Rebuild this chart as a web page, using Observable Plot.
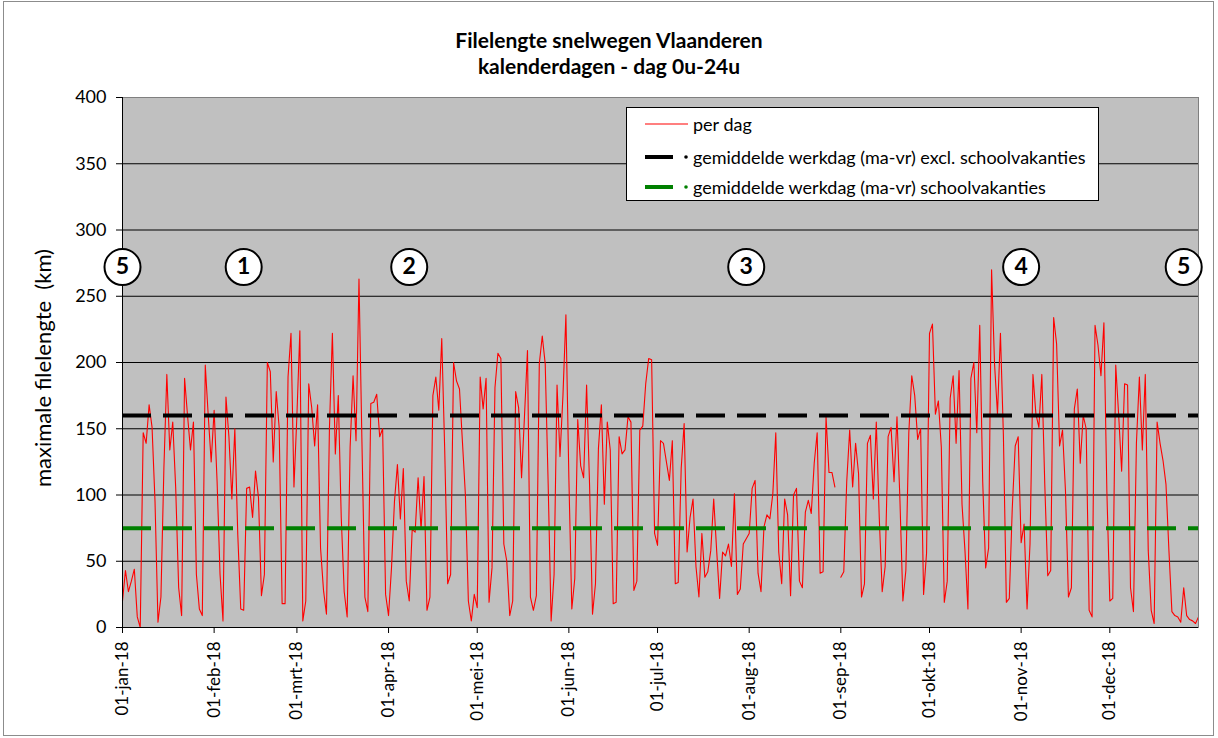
<!DOCTYPE html>
<html><head><meta charset="utf-8">
<script src="https://cdn.jsdelivr.net/npm/d3@7"></script>
<script src="https://cdn.jsdelivr.net/npm/@observablehq/plot@0.6"></script>
<style>
body{margin:0;background:#fff;font-family:Lato,"Liberation Sans",sans-serif;color:#000;}
#wrap{position:relative;width:1218px;height:738px;overflow:hidden;background:#fff;}
#frame{position:absolute;left:3px;top:1px;width:1209px;height:733px;border:1px solid #8c8c8c;pointer-events:none;}
#title{position:absolute;left:0;top:27px;width:1218px;text-align:center;font-weight:bold;font-size:21px;line-height:26px;}
#chart{position:absolute;left:0;top:0;}
#ytitle{position:absolute;left:42px;top:368px;transform:translate(-50%,-50%) rotate(-90deg);font-size:22px;white-space:nowrap;}
#legend{position:absolute;left:626px;top:107px;width:473px;height:94px;background:#fff;border:1px solid #000;box-sizing:border-box;font-size:18px;}
.row{position:absolute;left:0;height:22px;display:flex;align-items:center;white-space:nowrap;}
.row svg{display:block;}
</style>
</head><body>
<div id="wrap">
  <div id="chart"></div>
  <div id="title">Filelengte snelwegen Vlaanderen<br>kalenderdagen - dag 0u-24u</div>
  <div id="ytitle">maximale filelengte&nbsp; (km)</div>
  <div id="legend"></div>
  <div id="frame"></div>
</div>
<script>
// ---- data (max. filelengte per kalenderdag, km) ----
const monthNames = ["jan","feb","mrt","apr","mei","jun","jul","aug","sep","okt","nov","dec"];
const jan = [20,43,27,35,44,8,0,147,139,168,151,95,4,23,120,191,134,155,105,30,9,188,160,134,155,40,14,9,198,160,125];
const feb = [164,110,40,5,174,144,97,150,70,14,13,105,106,83,118,98,24,40,200,193,125,178,151,18,18,189,222,106];
const mrt = [160,224,5,20,184,166,137,168,60,28,10,150,222,131,175,83,27,8,136,190,141,263,140,23,12,169,170,176,144,150,25];
const apr = [9,45,95,123,82,120,35,20,74,72,113,74,114,13,23,175,189,164,218,134,33,40,200,186,180,140,100,20,5,25];
const mei = [15,189,165,188,19,45,181,207,203,63,50,9,20,178,166,113,160,209,23,13,24,199,220,199,108,5,40,183,129,175,236];
const jun = [113,14,37,157,122,113,183,108,10,33,135,168,93,155,134,18,19,144,131,134,159,155,28,35,149,152,184,203,202,71];
const jul = [62,141,139,125,111,141,33,34,120,154,57,83,97,46,23,71,38,42,58,97,58,22,57,54,63,46,101,25,29,63,67];
const aug = [71,105,111,41,27,76,85,82,101,147,57,33,97,85,24,100,105,35,30,87,96,86,124,147,41,42,159,117,117,106,null];
const sep = [38,42,110,149,106,139,116,23,33,139,145,97,155,83,27,46,144,151,110,159,96,20,43,147,190,175,142,150,25,56];
const okt = [222,229,161,171,136,19,35,173,190,139,194,93,58,14,188,200,147,228,110,45,60,270,199,161,222,145,19,22,90,137,144];
const nov = [64,78,14,63,191,161,151,191,108,39,43,234,214,137,149,103,23,30,165,180,124,160,150,13,8,228,213,190,230,103];
const dec = [20,22,198,160,118,184,183,30,12,139,189,134,191,58,13,3,155,139,126,108,58,12,9,8,4,30,9,6,5,3,8];

const avgWorkday = 160;        // gemiddelde werkdag excl. schoolvakanties
const avgWorkdayHoliday = 75;  // gemiddelde werkdag schoolvakanties

const yTicks = [0,50,100,150,200,250,300,350,400];

const markerDates = ["2018-01-01","2018-02-11","2018-04-08","2018-07-31","2018-11-01","2018-12-26"];
const markerLabels = ["5","1","2","3","4","5"];
const markerLevel = 272;

const legendLabels = ["per dag","gemiddelde werkdag (ma-vr) excl. schoolvakanties","gemiddelde werkdag (ma-vr) schoolvakanties"];

// ---- build ----
const daily = [jan,feb,mrt,apr,mei,jun,jul,aug,sep,okt,nov,dec].flat();
const data = daily.map((v,i)=>({date:new Date(Date.UTC(2018,0,1+i)), value:v}));
const markers = markerDates.map((d,i)=>({date:new Date(d+"T00:00:00Z"), label:markerLabels[i], y:markerLevel}));
const monthStarts = d3.range(12).map(m=>new Date(Date.UTC(2018,m,1)));
const xStart = new Date(Date.UTC(2018,0,1)), xEnd = new Date(Date.UTC(2018,11,31));

const chart = Plot.plot({
  width:1218, height:738,
  marginLeft:122, marginRight:20, marginTop:97, marginBottom:111,
  x:{type:"utc", domain:[xStart,xEnd]},
  y:{domain:[0,400]},
  style:{background:"transparent", fontFamily:"Lato, 'Liberation Sans', sans-serif", color:"#000"},
  marks:[
    Plot.frame({fill:"#c0c0c0", stroke:null}),
    Plot.ruleY(yTicks, {stroke:"#000", strokeWidth:1}),
    Plot.line(data, {x:"date", y:"value", stroke:"#ff0000", strokeWidth:1.1}),
    Plot.ruleY([avgWorkdayHoliday], {stroke:"#008000", strokeWidth:4, strokeDasharray:"29,12"}),
    Plot.ruleY([avgWorkday], {stroke:"#000", strokeWidth:4, strokeDasharray:"29,12"}),
    Plot.frame({stroke:"#7f7f7f"}),
    Plot.ruleX([xStart], {stroke:"#000", strokeWidth:1}),
    Plot.ruleY([0], {stroke:"#000", strokeWidth:1}),
    Plot.dot(markers, {x:"date", y:"y", r:18, fill:"#fff", stroke:"#000", strokeWidth:2}),
    Plot.text(markers, {x:"date", y:"y", text:"label", fontSize:23, fontWeight:"bold", fill:"#000"}),
    Plot.axisY({ticks:yTicks, tickSize:6, tickPadding:10, fontSize:18, label:null, stroke:"#000"}),
    Plot.axisX({ticks:monthStarts, tickRotate:-90, tickSize:6, tickPadding:8, fontSize:17, label:null,
      tickFormat:d=>"01-"+monthNames[d.getUTCMonth()]+"-18"})
  ]
});
document.getElementById("chart").appendChild(chart);

// legend
const legend = document.getElementById("legend");
const rowsY = [5, 38, 68];
const swatches = [
  '<svg width="66" height="10"><line x1="18" x2="61" y1="5" y2="5" stroke="#ff0000" stroke-width="1.2"/></svg>',
  '<svg width="66" height="10"><line x1="18" x2="46" y1="5" y2="5" stroke="#000" stroke-width="4"/><circle cx="59" cy="5" r="1.8" fill="#000"/></svg>',
  '<svg width="66" height="10"><line x1="18" x2="46" y1="5" y2="5" stroke="#008000" stroke-width="4"/><circle cx="59" cy="5" r="1.8" fill="#008000"/></svg>'
];
legendLabels.forEach((t,i)=>{
  const r = document.createElement("div");
  r.className="row"; r.style.top=rowsY[i]+"px";
  r.innerHTML = swatches[i] + '<span>'+t+'</span>';
  legend.appendChild(r);
});
</script>
</body></html>
